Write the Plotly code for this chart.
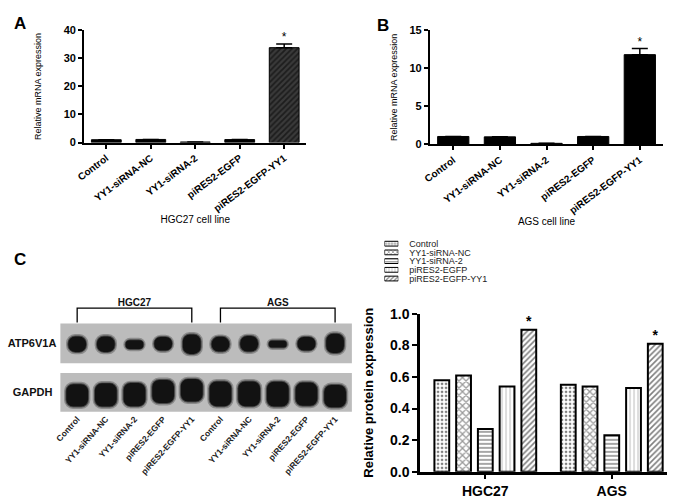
import plotly.graph_objects as go

# ---- data ----
groups = ["Control", "YY1-siRNA-NC", "YY1-siRNA-2", "piRES2-EGFP", "piRES2-EGFP-YY1"]

# A: HGC27 mRNA
hgc27_mrna = [1.0, 1.1, 0.2, 1.05, 33.8]
hgc27_mrna_err = [None, None, None, None, 1.3]
# B: AGS mRNA
ags_mrna = [1.05, 1.0, 0.15, 1.05, 11.8]
ags_mrna_err = [None, None, None, None, 0.8]

# C: western blot (lane, band thickness, band centre in membrane units)
lanes = list(range(1, 11))
lane_labels = groups + groups
cell_lines = ["HGC27", "AGS"]
atp_band = [0.39, 0.39, 0.22, 0.34, 0.49, 0.37, 0.39, 0.17, 0.34, 0.49]
atp_center = [0.48, 0.48, 0.47, 0.49, 0.48, 0.48, 0.49, 0.48, 0.49, 0.50]
gapdh_band = [0.58, 0.60, 0.60, 0.60, 0.58, 0.64, 0.64, 0.64, 0.60, 0.58]
gapdh_center = [0.42, 0.43, 0.44, 0.52, 0.55, 0.46, 0.46, 0.45, 0.45, 0.40]

# C: densitometry
protein = {
    "HGC27": [0.58, 0.61, 0.27, 0.54, 0.90],
    "AGS": [0.55, 0.54, 0.23, 0.53, 0.81],
}

W, H = 675, 499
FONT = "Liberation Sans, Arial, sans-serif"


def px(x):
    return x / W


def py(y):
    return 1 - y / H


patterns = [
    dict(shape=".", size=4, solidity=0.35, fgcolor="#000", bgcolor="#fff"),
    dict(shape="x", size=5, solidity=0.45, fgcolor="#333", bgcolor="#fff"),
    dict(shape="-", size=4, solidity=0.35, fgcolor="#000", bgcolor="#fff"),
    dict(shape="|", size=4, solidity=0.25, fgcolor="#777", bgcolor="#fff"),
    dict(shape="/", size=4, solidity=0.4, fgcolor="#000", bgcolor="#fff"),
]

fig = go.Figure()

# ---- A and B mRNA panels ----
for xa, ya, vals, err, hatched in [("x", "y", hgc27_mrna, hgc27_mrna_err, True),
                                   ("x2", "y2", ags_mrna, ags_mrna_err, False)]:
    fig.add_trace(go.Bar(
        x=groups, y=vals, width=0.67, xaxis=xa, yaxis=ya,
        marker=dict(color="#000", line=dict(color="#000", width=1),
                    pattern=dict(shape=["", "", "", "", "/" if hatched else ""],
                                 size=4, solidity=0.45, fgcolor="#000",
                                 bgcolor=["#000"] * 4 + ["#3a3a3a"])),
        error_y=dict(type="data", symmetric=False, array=err,
                     arrayminus=[None] * 5, color="#000", thickness=1.5, width=8),
        showlegend=False,
    ))
    top = vals[-1] + err[-1]
    fig.add_trace(go.Scatter(
        x=[groups[-1]], y=[top], mode="text", text=["*"],
        textposition="top center", textfont=dict(size=12, color="#000", family=FONT),
        xaxis=xa, yaxis=ya, showlegend=False, cliponaxis=False,
    ))

# ---- blot ----
for ya, band, center, bw in [("y3", atp_band, atp_center, 0.62),
                             ("y4", gapdh_band, gapdh_center, 0.76)]:
    for extra_w, extra_h, col, rad in [(0.16, 0.12, "rgba(50,50,50,0.35)", 9),
                                       (0.07, 0.05, "rgba(30,30,30,0.6)", 8),
                                       (0.0, 0.0, "#121212", 7)]:
        h = [b + extra_h for b in band]
        fig.add_trace(go.Bar(
            x=lanes, base=[c - v / 2 for c, v in zip(center, h)], y=h,
            width=bw + extra_w, xaxis="x3", yaxis=ya,
            marker=dict(color=col, line=dict(width=0), cornerradius=rad),
            showlegend=False, hoverinfo="skip",
        ))

# brackets over the cell lines
for i, name in enumerate(cell_lines):
    first, last = lanes[i * 5], lanes[i * 5 + 4]
    fig.add_trace(go.Scatter(
        x=[first, first, last, last], y=[0.04, 0.61, 0.61, 0.04],
        mode="lines", line=dict(color="#000", width=1.3),
        xaxis="x3", yaxis="y5", showlegend=False,
    ))
    fig.add_trace(go.Scatter(
        x=[(first + last) / 2], y=[0.61], mode="text", text=[name],
        textposition="top center",
        textfont=dict(size=10, color="#111", family=FONT, weight="bold"),
        xaxis="x3", yaxis="y5", showlegend=False, cliponaxis=False,
    ))

# ---- C densitometry bars ----
slot, bar_w = 0.172, 0.117
for i, g in enumerate(groups):
    yv = [protein[c][i] for c in cell_lines]
    fig.add_trace(go.Bar(
        x=[0, 1], y=yv, width=bar_w, offset=-2 * slot - bar_w / 2 + i * slot,
        xaxis="x4", yaxis="y6",
        marker=dict(color="#fff", line=dict(color="#000", width=2), pattern=patterns[i]),
        showlegend=False,
    ))
    # legend swatch
    fig.add_trace(go.Bar(
        x=[1], y=[g], orientation="h", width=0.55, xaxis="x5", yaxis="y7",
        marker=dict(color="#fff", line=dict(color="#000", width=1),
                    pattern=dict(patterns[i], size=3)),
        showlegend=False,
    ))

fig.add_trace(go.Scatter(
    x=[2 * slot, 1 + 2 * slot], y=[protein["HGC27"][-1], protein["AGS"][-1]],
    mode="text", text=["*", "*"], textposition="top center",
    textfont=dict(size=14, color="#000", family=FONT, weight="bold"),
    xaxis="x4", yaxis="y6", showlegend=False, cliponaxis=False,
))

# ---- axes ----
ax_common = dict(showline=True, linecolor="#000", linewidth=2, ticks="outside",
                 tickcolor="#000", tickwidth=2, ticklen=4, showgrid=False, zeroline=False)

fig.update_layout(
    width=W, height=H, margin=dict(l=0, r=0, t=0, b=0),
    paper_bgcolor="#fff", plot_bgcolor="rgba(0,0,0,0)",
    barmode="overlay", font=dict(family=FONT, color="#000"),
    xaxis=dict(ax_common, domain=[px(77), px(302)], anchor="y", tickangle=-37,
               tickfont=dict(size=10, weight="bold"),
               title=dict(text="HGC27 cell line", font=dict(size=10), standoff=0)),
    yaxis=dict(ax_common, domain=[py(139), py(23)], anchor="x", range=[0, 40],
               tickvals=[0, 10, 20, 30, 40], tickfont=dict(size=11, weight="bold"),
               title=dict(text="Relative mRNA expression", font=dict(size=9), standoff=20)),
    xaxis2=dict(ax_common, domain=[px(427), px(663)], anchor="y2", tickangle=-37,
                tickfont=dict(size=10, weight="bold"),
                title=dict(text="AGS cell line", font=dict(size=10), standoff=3)),
    yaxis2=dict(ax_common, domain=[py(141), py(23)], anchor="x2", range=[0, 15],
                tickvals=[0, 5, 10, 15], tickfont=dict(size=11, weight="bold"),
                title=dict(text="Relative mRNA expression", font=dict(size=9), standoff=10)),
    xaxis3=dict(domain=[px(53), px(348)], anchor="y4", range=[0.414, 10.586],
                showline=False, ticks="", showgrid=False, zeroline=False,
                tickvals=lanes, ticktext=lane_labels, tickangle=-48,
                tickfont=dict(size=8.5, weight="bold", color="#222")),
    yaxis3=dict(domain=[py(367), py(326)], anchor="x3", range=[0, 1],
                showline=False, showgrid=False, zeroline=False, ticks="",
                tickvals=[0.5], ticktext=["ATP6V1A"], ticklabelstandoff=3,
                tickfont=dict(size=11, weight="bold", color="#111")),
    yaxis4=dict(domain=[py(417), py(377)], anchor="x3", range=[0, 1],
                showline=False, showgrid=False, zeroline=False, ticks="",
                tickvals=[0.5], ticktext=["GAPDH"], ticklabelstandoff=7,
                tickfont=dict(size=11, weight="bold", color="#111")),
    yaxis5=dict(domain=[py(326), py(300)], anchor="x3", range=[0, 1], visible=False),
    xaxis4=dict(ax_common, domain=[px(417), px(667)], anchor="y6", linewidth=2.5,
                range=[-0.516, 1.4375], tickvals=[0, 1], ticktext=cell_lines,
                ticklen=5, tickfont=dict(size=14, weight="bold")),
    yaxis6=dict(ax_common, domain=[py(479), py(316)], anchor="x4", range=[0, 1],
                linewidth=2.5, ticklen=5, dtick=0.2, tickformat=".1f",
                tickfont=dict(size=14, weight="bold"),
                title=dict(text="Relative protein expression",
                           font=dict(size=13, weight="bold"), standoff=14)),
    xaxis5=dict(domain=[px(381), px(395)], anchor="y7", range=[0, 1], visible=False),
    yaxis7=dict(domain=[py(284), py(239)], anchor="x5", side="right",
                autorange="reversed", showline=False, showgrid=False, zeroline=False,
                tickmode="array", tickvals=groups, ticktext=groups,
                ticks="", ticklabelstandoff=10, tickfont=dict(size=9, color="#222")),
)

# membrane background
for ya in ["y3", "y4"]:
    fig.add_shape(type="rect", xref="x3 domain", yref=ya + " domain",
                  x0=0, x1=1, y0=0, y1=1, fillcolor="#bcbcbc",
                  line=dict(width=0), layer="below")

for label, x, y in [("A", 4, 4), ("B", 371, 6), ("C", 4, 248)]:
    fig.add_annotation(text=label, x=px(x), y=py(y), xref="paper", yref="paper",
                       xanchor="left", yanchor="top", showarrow=False,
                       font=dict(size=17, weight="bold", color="#000"))

# the page body has a default 8px margin; drop it so the figure sits at 0,0
fig.write_html("out.html", config={"displayModeBar": False},
               post_script="document.body.style.margin='0';")
